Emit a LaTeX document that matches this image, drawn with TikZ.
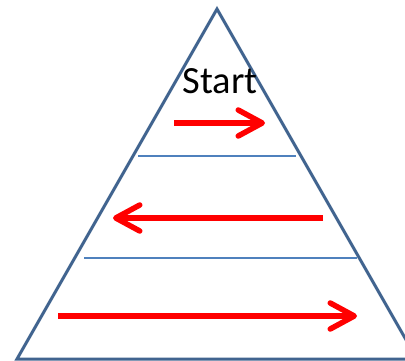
\documentclass[tikz,border=0pt]{standalone}
\usepackage{fontspec}
\setmainfont{Carlito}
\usetikzlibrary{arrows.meta}
\definecolor{edgeblue}{HTML}{41648F}
\definecolor{lineblue}{HTML}{4F81BD}
\definecolor{arrowred}{HTML}{FF0000}
\tikzset{
  edge/.style={draw=edgeblue, line width=3pt, line join=miter},
  divider/.style={draw=lineblue, line width=1.2pt},
  redarrow/.style={draw=arrowred, line width=5.5pt,
    -{Straight Barb[length=24pt, width=26pt, line cap=round, line join=round]}},
}
\begin{document}
\begin{tikzpicture}[x=1pt, y=-1pt]
\useasboundingbox (0,0) rectangle (405,361);
\fill[white] (0,0) rectangle (405,361);
\clip (0,0) rectangle (405,361);
\coordinate (apex) at (217,9);
\coordinate (bl) at (17,359);
\coordinate (br) at (417,359);
\draw[edge] (bl) -- (apex) -- (br) -- cycle;
\coordinate (d1l) at (138,156);
\coordinate (d1r) at (296,156);
\coordinate (d2l) at (84,258);
\coordinate (d2r) at (357,258);
\draw[divider] (d1l) -- (d1r);
\draw[divider] (d2l) -- (d2r);
\node[font=\fontsize{38.5}{44}\selectfont, anchor=base, inner sep=0pt] (start) at (220,94) {Start};
\coordinate (a1s) at (174,123);
\coordinate (a1e) at (265,123);
\coordinate (a2s) at (323,218);
\coordinate (a2e) at (113,218);
\coordinate (a3s) at (58,316);
\coordinate (a3e) at (357,316);
\draw[redarrow] (a1s) -- (a1e);
\draw[redarrow] (a2s) -- (a2e);
\draw[redarrow] (a3s) -- (a3e);
\end{tikzpicture}
\end{document}
